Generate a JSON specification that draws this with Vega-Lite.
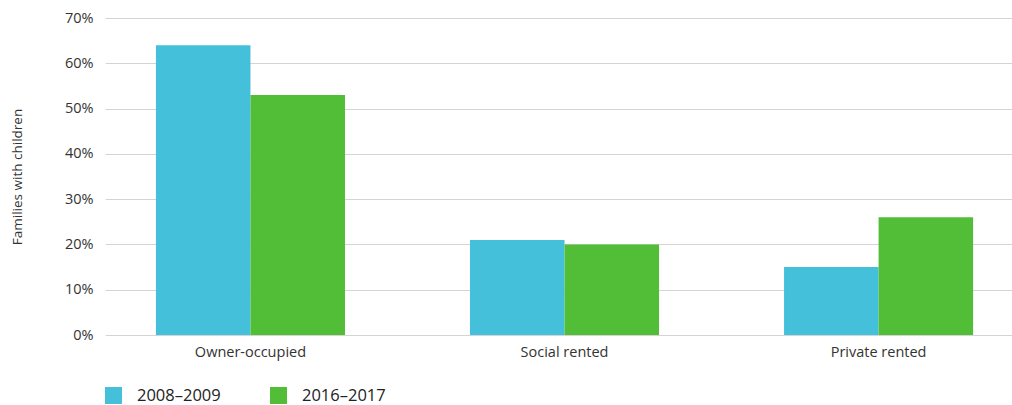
{
  "$schema": "https://vega.github.io/schema/vega-lite/v6.json",
  "autosize": "none",
  "width": 907,
  "height": 317,
  "padding": {"left": 105, "top": 18, "right": 0, "bottom": 70},
  "background": "white",
  "config": {
    "font": "Open Sans",
    "view": {"stroke": null}
  },
  "data": {
    "values": [
      {"tenure": "Owner-occupied", "period": "2008–2009", "share": 64},
      {"tenure": "Owner-occupied", "period": "2016–2017", "share": 53},
      {"tenure": "Social rented", "period": "2008–2009", "share": 21},
      {"tenure": "Social rented", "period": "2016–2017", "share": 20},
      {"tenure": "Private rented", "period": "2008–2009", "share": 15},
      {"tenure": "Private rented", "period": "2016–2017", "share": 26}
    ]
  },
  "mark": {"type": "bar"},
  "encoding": {
    "x": {
      "field": "tenure",
      "type": "nominal",
      "sort": ["Owner-occupied", "Social rented", "Private rented"],
      "scale": {"paddingInner": 0.398, "paddingOuter": 0.143, "align": 0.567},
      "axis": {
        "title": null,
        "labelAngle": 0,
        "labelFontSize": 14.5,
        "labelColor": "#333333",
        "labelPadding": 10,
        "ticks": false,
        "domain": false,
        "grid": false
      }
    },
    "xOffset": {
      "field": "period",
      "type": "nominal",
      "scale": {"paddingInner": 0, "paddingOuter": 0}
    },
    "y": {
      "field": "share",
      "type": "quantitative",
      "scale": {"domain": [0, 70], "nice": false},
      "axis": {
        "title": "Families with children",
        "titleFontSize": 13.5,
        "titleFontWeight": "normal",
        "titleColor": "#333333",
        "titlePadding": 40,
        "values": [0, 10, 20, 30, 40, 50, 60, 70],
        "labelExpr": "datum.value + '%'",
        "labelFontSize": 14.5,
        "labelColor": "#333333",
        "labelPadding": 12,
        "ticks": false,
        "domain": false,
        "grid": true,
        "gridColor": "#d4d4d4",
        "gridWidth": 1
      }
    },
    "color": {
      "field": "period",
      "type": "nominal",
      "scale": {"domain": ["2008–2009", "2016–2017"], "range": ["#44c0da", "#52be38"]},
      "legend": {
        "title": null,
        "orient": "none",
        "legendX": 0,
        "legendY": 369,
        "direction": "horizontal",
        "symbolType": "square",
        "symbolSize": 289,
        "symbolStrokeWidth": 0,
        "symbolOpacity": 1,
        "labelFontSize": 16.5,
        "labelColor": "#222222",
        "labelOffset": 15,
        "columnPadding": 49
      }
    }
  }
}
